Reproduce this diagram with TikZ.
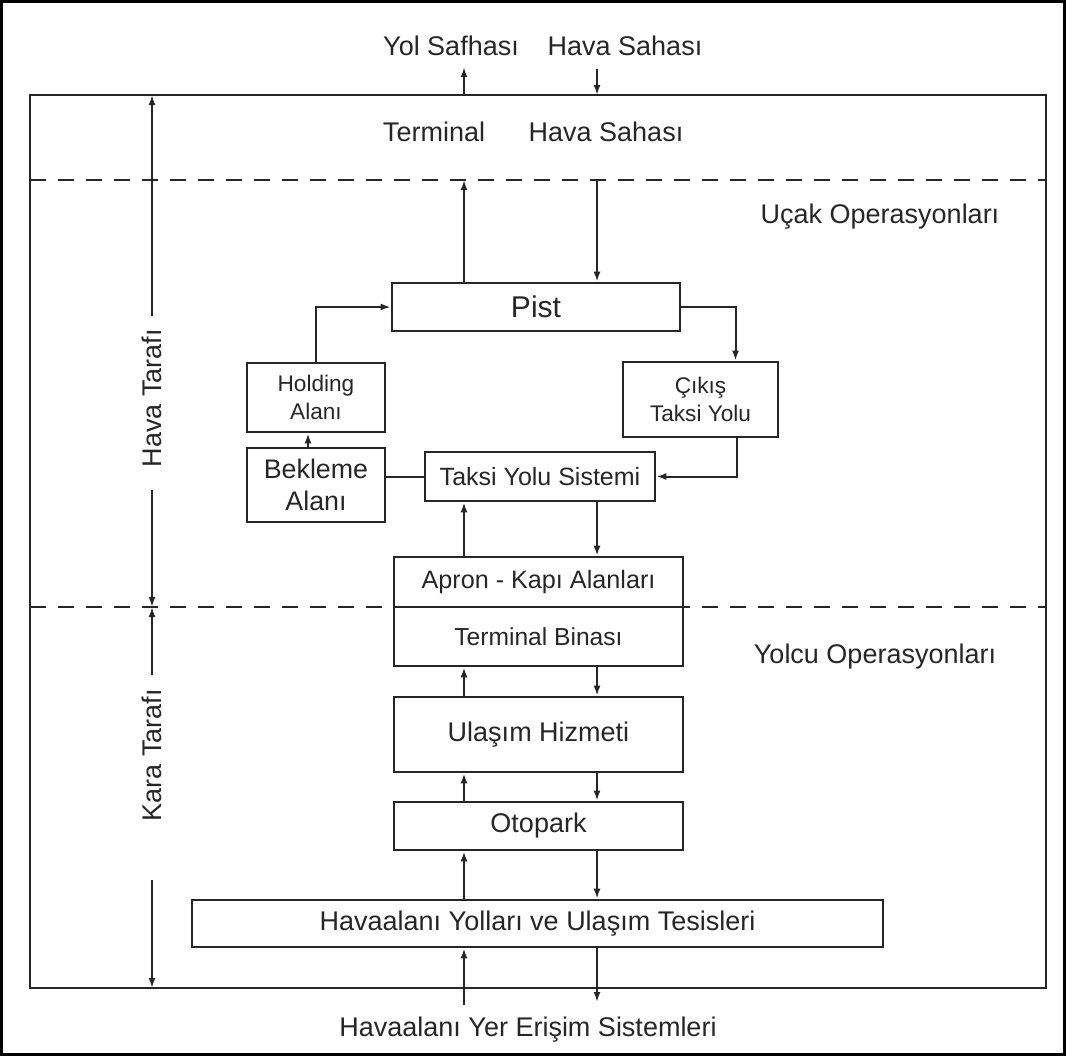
\documentclass[tikz,border=0pt]{standalone}
\usepackage{fontspec}
\setmainfont{Liberation Sans}
\usetikzlibrary{arrows.meta}

\begin{document}
\begin{tikzpicture}[x=0.5pt, y=-0.5pt,
            color=black!85, line width=1pt,
            box/.style={draw, line width=1.3pt, inner sep=0pt, align=center,
                font=\fontsize{13.5}{16}\selectfont},
            lbl/.style={inner sep=0pt, font=\fontsize{13.5}{16}\selectfont},
            zone/.style={dash pattern=on 8pt off 6pt, line width=1pt},
            >={Latex[length=5pt,width=3.5pt]}]
        \useasboundingbox (0,0) rectangle (1066,1056);
        \draw [line width=1.6pt, black] (1.5,1.5) rectangle (1064.5,1054.5);

        % frame and zones
        \draw [line width=1.3pt] (30,95) rectangle (1046,988);
        \draw [zone] (30,180) -- (1046,180);
        \draw [zone] (30,607) -- (1046,607);

        % boxes
        \node [box, minimum width=144pt, minimum height=24pt,
            font=\fontsize{15}{18}\selectfont] (pist) at (536,307) {Pist};
        \node [box, minimum width=69pt, minimum height=34.5pt,
            font=\fontsize{11.3}{14}\selectfont] (hold) at (316,397.5) {Holding\\Alanı};
        \node [box, minimum width=77.5pt, minimum height=37.5pt,
            font=\fontsize{11.3}{14}\selectfont] (cikis) at (700.5,399.5) {Çıkış\\Taksi Yolu};
        \node [box, minimum width=69pt, minimum height=37pt,
            font=\fontsize{13.4}{16}\selectfont] (bek) at (316,485) {Bekleme\\Alanı};
        \node [box, minimum width=115pt, minimum height=24.5pt,
            font=\fontsize{12.5}{15}\selectfont] (taksi) at (540,476.5) {Taksi Yolu Sistemi};
        \node [box, minimum width=144.5pt, minimum height=25pt,
            font=\fontsize{12.6}{15}\selectfont] (apron) at (538.5,582) {Apron - Kapı Alanları};
        \node [box, minimum width=144.5pt, minimum height=29.5pt,
            font=\fontsize{12.3}{15}\selectfont] (terb) at (538.5,636.5) {Terminal Binası};
        \node [box, minimum width=144.5pt, minimum height=37.5pt] (ulasim) at (538.5,734.5) {Ulaşım Hizmeti};
        \node [box, minimum width=144.5pt, minimum height=24pt] (oto) at (538.5,826) {Otopark};
        \node [box, minimum width=345.5pt, minimum height=23.5pt] (yollar) at (537.5,923.5) {Havaalanı Yolları ve Ulaşım Tesisleri};

        % labels
        \node [lbl] (yol) at (451,46) {Yol Safhası};
        \node [lbl] (hs1) at (625,46) {Hava Sahası};
        \node [lbl] (term) at (434,132) {Terminal};
        \node [lbl] (hs2) at (606,132) {Hava Sahası};
        \node [lbl] (ucak) at (880,217) {Uçak Operasyonları};
        \node [lbl] (yolcu) at (875,657) {Yolcu Operasyonları};
        \node [lbl] (yer) at (528,1030) {Havaalanı Yer Erişim Sistemleri};
        \node [lbl, rotate=90] (hava) at (152,398) {Hava Tarafı};
        \node [lbl, rotate=90] (kara) at (152,755) {Kara Tarafı};

        % side extents
        \coordinate (ftop) at (152,95);
        \coordinate (fmid) at (152,607);
        \coordinate (fbot) at (152,988);
        \draw [->] (152,316) coordinate (h1) (h1) -- (ftop);
        \draw [->] (152,490) coordinate (h2) (h2) -- (fmid);
        \draw [->] (152,675) coordinate (k1) (k1) -- (fmid);
        \draw [->] (152,880) coordinate (k2) (k2) -- (fbot);

        % in / out columns
        \coordinate (up) at (464,0);
        \coordinate (dn) at (597,0);
        \draw [->] (up |- 0,95) -- (up |- 0,67);
        \draw [->] (dn |- 0,69) -- (dn |- 0,95);
        \draw [->] (pist.north -| up) -- (up |- 0,180);
        \draw [->] (dn |- 0,180) -- (pist.north -| dn);

        % airside loop
        \draw [->] (hold.north) |- (pist.west);
        \draw [->] (pist.east) -| ([xshift=17.5pt]cikis.north);
        \draw [->] ([xshift=18pt]cikis.south) |- (taksi.east);
        \draw [->] ([xshift=-4pt]bek.north) -- ([xshift=-4pt]hold.south);
        \draw (bek.east |- taksi.west) -- (taksi.west);

        % chain down to the ground
        \foreach \a/\b in {taksi/apron, terb/ulasim, ulasim/oto, oto/yollar} {
            \draw [->] (\b.north -| up) -- (\a.south -| up);
            \draw [->] (\a.south -| dn) -- (\b.north -| dn);
        }
        \draw [->] (up |- 0,1005) -- (yollar.south -| up);
        \draw [->] (yollar.south -| dn) -- (dn |- 0,1002);
    \end{tikzpicture}
\end{document}
